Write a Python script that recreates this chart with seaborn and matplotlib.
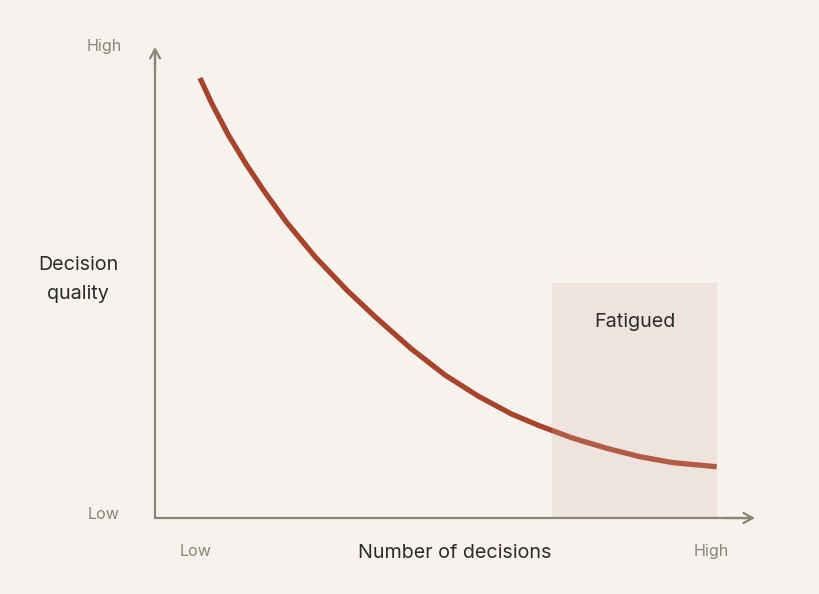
import numpy as np
import pandas as pd
import matplotlib.pyplot as plt
import seaborn as sns

# -----------------------------
# Data (axes run 0..10 on both sides)
# -----------------------------
decisions = [0.750, 0.945, 1.222, 1.517, 1.817, 2.195, 2.667, 3.195, 3.667, 4.275,
             4.833, 5.383, 5.942, 6.417, 6.972, 7.528, 8.083, 8.638, 9.362]
quality = [9.342, 8.805, 8.132, 7.516, 6.943, 6.274, 5.548, 4.841, 4.274, 3.588,
           3.036, 2.590, 2.208, 1.953, 1.692, 1.480, 1.301, 1.174, 1.089]
fatigue_zone = [6.62, 9.362]   # x range of the shaded band
fatigue_top = 5.0
axis_labels = ["Low", "High"]

bg = "#f6f3ee"
axis_col = "#8b8574"
curve_col = "#a8442a"
dark = "#2b2b2b"

sns.set_theme(style="white")
plt.rcParams["font.family"] = ["Inter", "DejaVu Sans"]

fig = plt.figure(figsize=(8.2, 5.94), dpi=100, facecolor=bg)
ax = fig.add_axes([155 / 820, 76 / 594, 600 / 820, 471 / 594])
ax.set_facecolor(bg)
ax.set_xlim(0, 10)
ax.set_ylim(0, 10)
for s in ax.spines.values():
    s.set_visible(False)
ax.set_xticks([])
ax.set_yticks([])

df = pd.DataFrame({"decisions": decisions, "quality": quality})
sns.lineplot(data=df, x="decisions", y="quality", ax=ax, color=curve_col,
             linewidth=3.8, solid_capstyle="butt", solid_joinstyle="round",
             sort=False, zorder=2)
ax.set_xlabel("")
ax.set_ylabel("")

# shaded "fatigued" band, drawn over the curve so the curve looks lighter inside
ax.fill_between(fatigue_zone, 0, fatigue_top, color="#d6b3a1", alpha=0.22,
                linewidth=0, zorder=3)
ax.text(np.mean(fatigue_zone), fatigue_top - 0.83, "Fatigued", ha="center",
        va="center", fontsize=14.2, color=dark, zorder=4)

# axis lines with open arrow heads
ax.plot([0, 0, 9.9], [9.9, 0, 0], color=axis_col, lw=1.6,
        solid_joinstyle="miter", clip_on=False, zorder=5)
arrow = dict(arrowstyle="->,head_length=0.55,head_width=0.3", color=axis_col,
             lw=1.6, shrinkA=0, shrinkB=0)
ax.annotate("", xy=(10, 0), xytext=(9.5, 0), arrowprops=arrow, zorder=5,
            annotation_clip=False)
ax.annotate("", xy=(0, 10), xytext=(0, 9.5), arrowprops=arrow, zorder=5,
            annotation_clip=False)

# end labels
lab = dict(ha="center", va="center", fontsize=11.6, color=axis_col)
ax.text(-0.85, 10.02, axis_labels[1], **lab)
ax.text(-0.85, 0.08, axis_labels[0], **lab)
ax.text(0.67, -0.72, axis_labels[0], **lab)
ax.text(9.27, -0.72, axis_labels[1], **lab)

ax.text(5.0, -0.75, "Number of decisions", ha="center", va="center",
        fontsize=14.2, color=dark)
ax.text(-1.283, 5.06, "Decision\nquality", ha="center", va="center",
        fontsize=14.2, color=dark, linespacing=1.75)

fig.savefig("out.png", dpi=100, facecolor=bg)
